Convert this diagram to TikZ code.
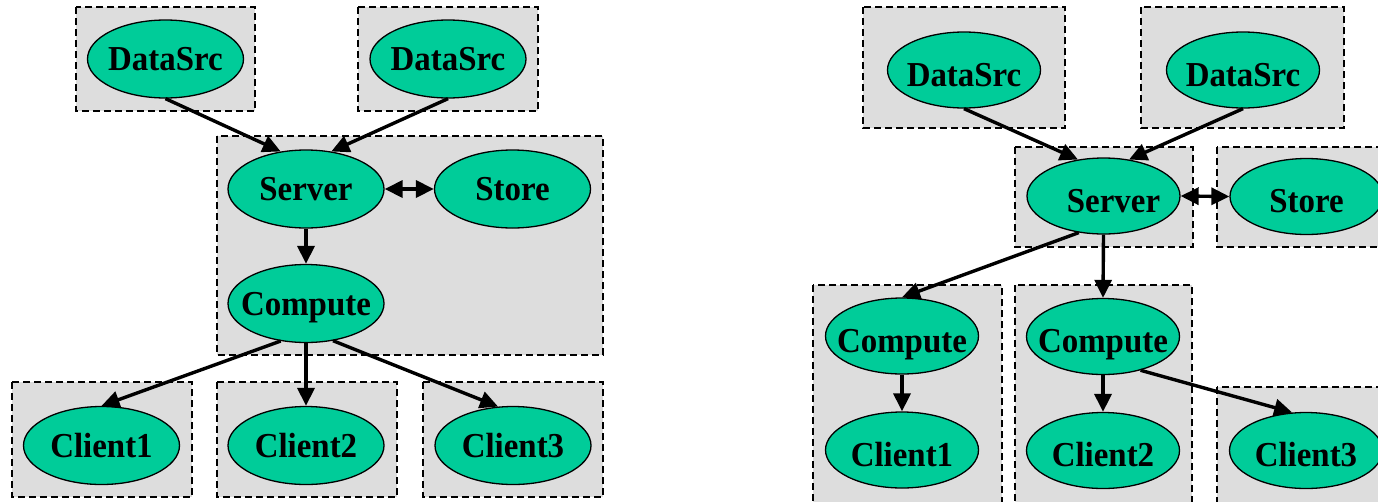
\documentclass[tikz,border=0pt]{standalone}
\usepackage{fontspec}
\setmainfont{Liberation Serif}
\newfontfamily\labelfont{Liberation Serif}[FakeStretch=0.94]
\usetikzlibrary{arrows.meta,shapes.geometric}
\definecolor{nodegreen}{HTML}{00CC99}
\definecolor{clustergray}{HTML}{DDDDDD}
\begin{document}
\begin{tikzpicture}[x=1pt,y=-1pt,
  cluster/.style={draw=black, fill=clustergray, line width=1.8pt, dash pattern=on 7pt off 4pt},
  proc/.style={ellipse, draw=black, line width=1.3pt, fill=nodegreen,
    minimum width=156pt, minimum height=78pt, inner xsep=-14pt, inner ysep=0pt,
    font=\labelfont\bfseries\fontsize{35}{35}\selectfont, text height=23pt, text depth=0pt},
  procR/.style={proc, minimum width=153pt, minimum height=76pt, text height=32pt},
  tip/.tip={Triangle[length=18pt,width=17pt]},
  flow/.style={line width=3.4pt, -tip},
  both/.style={line width=3.4pt, tip-tip}
]
\path[use as bounding box] (0,0) rectangle (1378,501);
\clip (0,0) rectangle (1378,501);

% ---------- first deployment: clusters ----------
\path[cluster] (76,7) rectangle (255,111);
\path[cluster] (358,7) rectangle (538,111);
\path[cluster] (217,136) rectangle (603,355);
\path[cluster] (12,382) rectangle (192,497);
\path[cluster] (217,382) rectangle (397,497);
\path[cluster] (423,382) rectangle (603,497);

% ---------- first deployment: processes ----------
\node[proc] (dsA)     at (165.5,59)  {DataSrc};
\node[proc] (dsB)     at (448,59)    {DataSrc};
\node[proc] (server)  at (306,189)   {Server};
\node[proc] (store)   at (512.5,189) {Store};
\node[proc] (compute) at (306,303.5) {Compute};
\node[proc] (clA)     at (101.5,445.5) {Client1};
\node[proc] (clB)     at (306,445.5)   {Client2};
\node[proc] (clC)     at (513,445.5)   {Client3};

% ---------- first deployment: flows ----------
\draw[flow] (dsA.south) -- (server.124);
\draw[flow] (dsB.south) -- (server.56);
\draw[both] (server.east) -- (store.west);
\draw[flow] (server.south) -- (compute.north);
\draw[flow] (compute.236) -- (clA.north);
\draw[flow] (compute.south) -- (clB.north);
\draw[flow] (compute.-54) -- (clC.111);

% ---------- second deployment: clusters ----------
\path[cluster] (863,7) rectangle (1065,128);
\path[cluster] (1141,7) rectangle (1344,128);
\path[cluster] (1015,147) rectangle (1193,247);
\path[cluster] (1217,147) rectangle (1420,247);
\path[cluster] (813,285) rectangle (1002,520);
\path[cluster] (1015,285) rectangle (1192,520);
\path[cluster] (1217,387) rectangle (1420,520);

% ---------- second deployment: processes ----------
\node[procR] (dsC)      at (964,70)      {DataSrc};
\node[procR] (dsD)      at (1243,70)     {DataSrc};
\node[procR] (server2)  at (1103.5,196)  {\hspace*{10pt}Server\hspace*{-10pt}};
\node[procR] (store2)   at (1306.5,196.5) {Store};
\node[procR] (computeA) at (902,336)     {Compute};
\node[procR] (computeB) at (1103,336.5)  {Compute};
\node[procR] (clD)      at (902,450)     {Client1};
\node[procR] (clE)      at (1103,450.5)  {Client2};
\node[procR] (clF)      at (1306,450.5)  {Client3};

% ---------- second deployment: flows ----------
\draw[flow] (dsC.south) -- (server2.125);
\draw[flow] (dsD.south) -- (server2.55);
\draw[both] (server2.east) -- (store2.west);
\draw[flow] (server2.236) -- (computeA.north);
\draw[flow] (server2.south) -- (computeB.north);
\draw[flow] (computeA.south) -- (clD.north);
\draw[flow] (computeB.south) -- (clE.north);
\draw[flow] (computeB.-42) -- (clF.110);
\end{tikzpicture}
\end{document}
